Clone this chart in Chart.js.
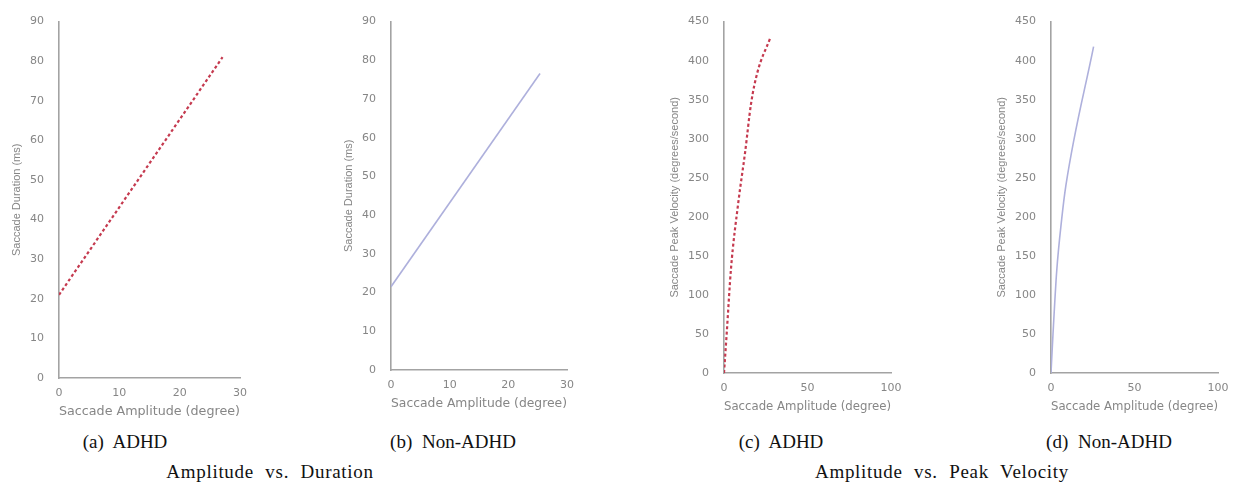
<!DOCTYPE html>
<html>
<head>
<meta charset="utf-8">
<script src="https://cdn.jsdelivr.net/npm/chart.js@4"></script>
<style>
  body { margin: 0; background: #fff; width: 1241px; height: 487px; position: relative; overflow: hidden; }
  .panel { position: absolute; top: 0; }
  .cap { position: absolute; font-family: 'Liberation Serif', 'Times New Roman', serif; font-size: 19px; color: #111;
         white-space: nowrap; transform: translate(-50%, -50%); word-spacing: 5px; }
  .grp { word-spacing: 6px; letter-spacing: 0.7px; }
</style>
</head>
<body>
<div class="panel" id="pa"><canvas id="ca"></canvas></div>
<div class="panel" id="pb"><canvas id="cb"></canvas></div>
<div class="panel" id="pc"><canvas id="cc"></canvas></div>
<div class="panel" id="pd"><canvas id="cd"></canvas></div>

<div class="cap" style="left:125px;top:442px">(a) ADHD</div>
<div class="cap" style="left:453px;top:442px">(b) Non-ADHD</div>
<div class="cap" style="left:781px;top:442px">(c) ADHD</div>
<div class="cap" style="left:1109px;top:442px">(d) Non-ADHD</div>
<div class="cap grp" style="left:270px;top:472px">Amplitude vs. Duration</div>
<div class="cap grp" style="left:942px;top:472px">Amplitude vs. Peak Velocity</div>

<script>
// amplitude vs duration
const durAdhdX = [0, 27.1];
const durAdhdY = [21, 81];
const durNonX = [0, 25.4];
const durNonY = [21.5, 76.6];

// amplitude vs peak velocity
const velAdhdX = [0, 1.6, 4.2, 8.6, 12.6, 16.2, 20, 27.5];
const velAdhdY = [0, 50, 134, 219, 282, 345, 385, 428];
const velNonX = [0, 1.2, 3.4, 6.4, 8.9, 25.5];
const velNonY = [0, 50, 130, 197, 240, 418];

const durTicks = { min: 0, max: 90, step: 10, xMax: 30, xStep: 10 };
const velTicks = { min: 0, max: 450, step: 50, xMax: 100, xStep: 50 };

const red = '#c53a4f';
const lav = '#aeb0dc';
const axisCol = '#a3a3a3';
const textCol = '#868686';

function pts(xs, ys) {
    return xs.map((x, i) => ({ x: x, y: ys[i] }));
}

// area = wanted chart area in page pixels
function makePanel(divId, canvasId, area, xs, ys, color, dashed, yTitle, t, yw, titlePad) {
    const xh = 45, padR = 20;
    const left = area.L - yw;
    const w = area.R + padR - left;
    const h = area.B + xh;
    const div = document.getElementById(divId);
    div.style.left = left + 'px';
    div.style.width = w + 'px';
    div.style.height = h + 'px';

    return new Chart(document.getElementById(canvasId).getContext('2d'), {
        type: 'line',
        data: {
            datasets: [{
                data: pts(xs, ys),
                borderColor: color,
                borderWidth: dashed ? 2.2 : 1.6,
                borderDash: dashed ? [3, 2.5] : [],
                pointRadius: 0,
                fill: false,
                cubicInterpolationMode: 'monotone'
            }]
        },
        options: {
            responsive: true,
            maintainAspectRatio: false,
            animation: false,
            layout: { padding: { left: 0, right: padR, top: area.T, bottom: 0 } },
            plugins: { legend: { display: false }, tooltip: { enabled: false } },
            scales: {
                x: {
                    type: 'linear',
                    min: 0,
                    max: t.xMax,
                    grid: { display: false, drawTicks: false },
                    border: { display: true, color: axisCol, width: 1.6 },
                    ticks: { stepSize: t.xStep, padding: 9, color: textCol, font: { family: 'DejaVu Sans', size: 11 }, maxRotation: 0 },
                    title: { display: true, text: 'Saccade Amplitude (degree)', color: textCol,
                             font: { family: 'DejaVu Sans', size: 13 }, padding: { top: 0, bottom: 4 } },
                    afterFit: s => { s.height = xh; }
                },
                y: {
                    min: t.min,
                    max: t.max,
                    grid: { display: false, drawTicks: false },
                    border: { display: true, color: axisCol, width: 1.6 },
                    ticks: { stepSize: t.step, padding: 15, color: textCol, font: { family: 'DejaVu Sans', size: 11 } },
                    title: { display: true, text: yTitle, color: textCol,
                             font: { family: 'Liberation Sans', size: 11 }, padding: { top: titlePad, bottom: 0 } },
                    afterFit: s => { s.width = yw; }
                }
            }
        }
    });
}

makePanel('pa', 'ca', { L: 59, R: 240, T: 18, B: 378 }, durAdhdX, durAdhdY, red, true,
    'Saccade Duration (ms)', durTicks, 55, 6);
makePanel('pb', 'cb', { L: 391, R: 567, T: 13, B: 370 }, durNonX, durNonY, lav, false,
    'Saccade Duration (ms)', durTicks, 55, 6);
makePanel('pc', 'cc', { L: 724, R: 891, T: 17, B: 373 }, velAdhdX, velAdhdY, red, true,
    'Saccade Peak Velocity (degrees/second)', velTicks, 60, 4);
makePanel('pd', 'cd', { L: 1051, R: 1218, T: 17, B: 373 }, velNonX, velNonY, lav, false,
    'Saccade Peak Velocity (degrees/second)', velTicks, 60, 4);
</script>
</body>
</html>
